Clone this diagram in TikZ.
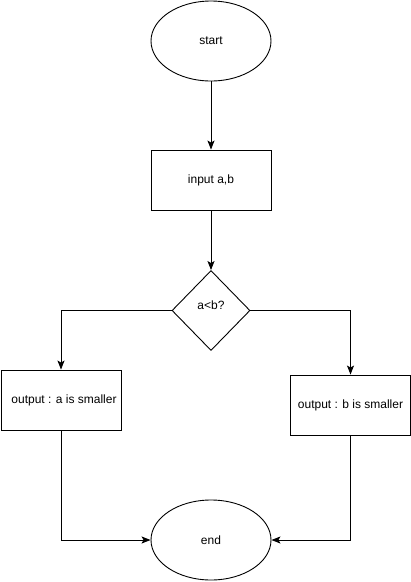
\documentclass[tikz,border=0pt]{standalone}
\usepackage{fontspec}
\setmainfont{Liberation Sans}
\usetikzlibrary{shapes.geometric,arrows.meta}
\begin{document}
\begin{tikzpicture}[x=1pt,y=-1pt,
  every node/.style={font=\fontsize{12}{14}\selectfont, draw=black, line width=0.9pt, inner sep=0pt},
  term/.style={ellipse, minimum width=120pt, minimum height=80pt},
  proc/.style={rectangle, minimum width=120pt, minimum height=60pt},
  dec/.style={diamond, minimum width=78pt, minimum height=80pt},
  conn/.style={draw=black, line width=0.9pt, -{Stealth[length=9pt,width=7pt,inset=2pt]}}]
\useasboundingbox (0,0) rectangle (411,582);
\node[term] (start) at (211,41) {start};
\node[proc] (input) at (211,180) {input a,b};
\node[dec] (cmp) at (211,310.5) {};
\node[draw=none] (cmplabel) at (211,305) {a<b?};
\node[proc] (outa) at (61,400) {\hspace*{6pt}output : a is smaller};
\node[proc] (outb) at (350.5,405) {output : b is smaller};
\node[term] (end) at (211,540) {end};
\draw[conn] (start) -- (input);
\draw[conn] (input) -- (cmp);
\draw[conn] (cmp.west) -| (outa.north);
\draw[conn] (cmp.east) -| (outb.north);
\draw[conn] (outa.south) |- (end.west);
\draw[conn] (outb.south) |- (end.east);
\end{tikzpicture}
\end{document}
